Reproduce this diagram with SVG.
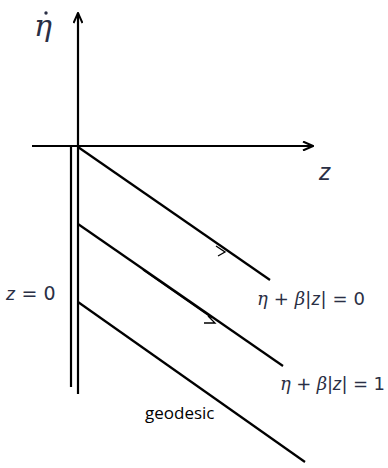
<svg xmlns="http://www.w3.org/2000/svg" width="388" height="468" viewBox="0 0 388 468">
<defs>
<marker id="ah" viewBox="0 0 12 10" refX="11" refY="5" markerWidth="12" markerHeight="10" markerUnits="userSpaceOnUse" orient="auto">
<path d="M1,0.5 L11,5 L1,9.5" fill="none" stroke="#000" stroke-width="2"/>
</marker>
<style>
.ln{stroke:#000;stroke-width:2.2;fill:none}
.thin{stroke:#000;stroke-width:1.3;fill:none}
.mt{font-family:"DejaVu Serif","Liberation Serif",serif;font-style:italic;fill:#2a2f45}
.mz{font-family:"Liberation Sans","DejaVu Sans",sans-serif;font-style:italic;fill:#2a2f45}
.mr{font-family:"DejaVu Sans","Liberation Sans",sans-serif;fill:#2a2f45}
.lb{font-family:"Liberation Sans Narrow","Open Sans","Liberation Sans",sans-serif;fill:#000}
</style>
</defs>
<g id="connectors">
<line class="ln" x1="78" y1="146" x2="78" y2="13" marker-end="url(#ah)"/>
<line class="ln" x1="32" y1="146" x2="313" y2="146" marker-end="url(#ah)"/>
<line class="ln" x1="71" y1="147" x2="71" y2="387"/>
<line class="ln" x1="78" y1="146" x2="78" y2="394"/>
<line class="ln" x1="78" y1="147" x2="270" y2="280"/>
<line class="ln" x1="78" y1="224" x2="283" y2="366"/>
<line class="ln" x1="78" y1="302" x2="305" y2="462"/>
<line class="thin" x1="143" y1="270" x2="212" y2="318"/>
<path class="thin" d="M216,246 L225,252 L218,256"/>
<path class="thin" d="M208,316 L215,323 L204,323"/>
</g>
<g id="eta-dot-label">
<text class="mt" x="34" y="36" font-size="30">η</text>
<circle cx="46" cy="13" r="1.7" fill="#2a2f45"/>
</g>
<g id="z-label"><text class="mz" x="319" y="180" font-size="24">z</text></g>
<g id="z0-label"><text x="6" y="300" font-size="19"><tspan class="mz">z</tspan><tspan class="mr"> = 0</tspan></text></g>
<g id="eq0-label"><text x="257" y="305" font-size="18" textLength="108"><tspan class="mt">η</tspan><tspan class="mr"> + </tspan><tspan class="mt">β</tspan><tspan class="mr">|</tspan><tspan class="mz">z</tspan><tspan class="mr">| = 0</tspan></text></g>
<g id="eq1-label"><text x="280" y="390" font-size="18" textLength="105"><tspan class="mt">η</tspan><tspan class="mr"> + </tspan><tspan class="mt">β</tspan><tspan class="mr">|</tspan><tspan class="mz">z</tspan><tspan class="mr">| = 1</tspan></text></g>
<g id="geodesic-label"><text class="lb" x="145" y="419" font-size="17">geodesic</text></g>
</svg>
